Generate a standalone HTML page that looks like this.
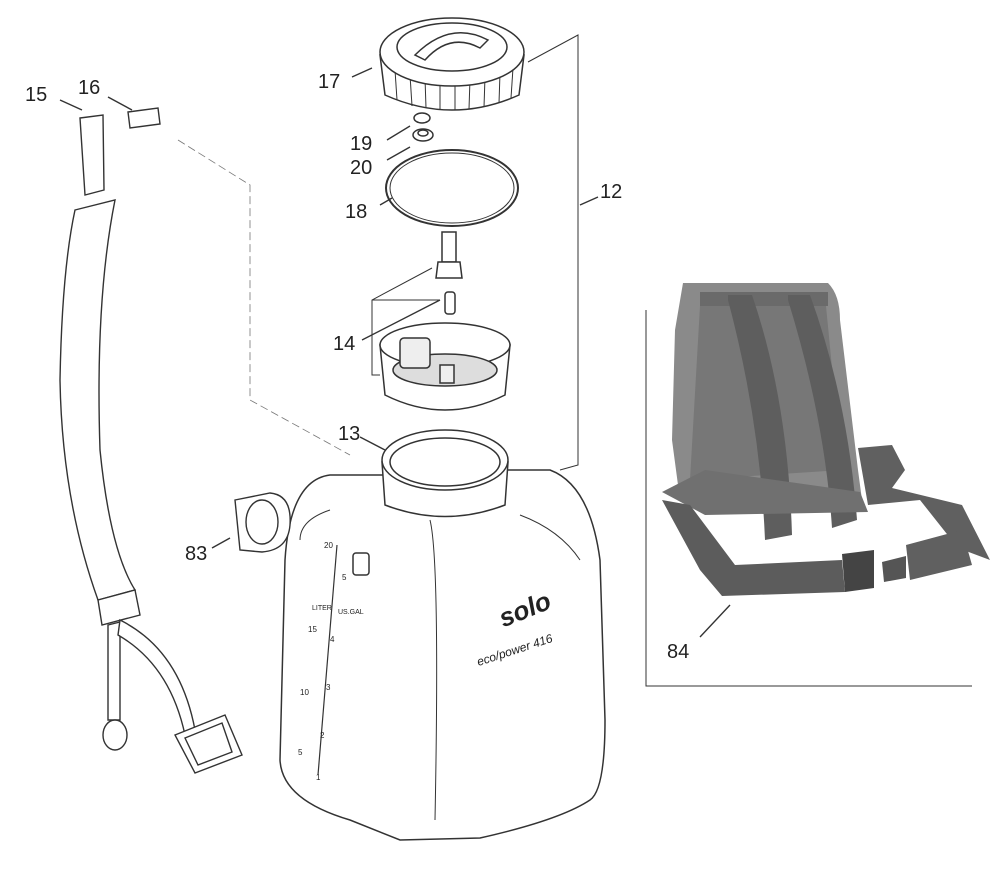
<!DOCTYPE html>
<html><head><meta charset="utf-8"><style>
html,body{margin:0;padding:0;background:#fff}
svg{display:block}
text{font-family:"Liberation Sans",sans-serif;fill:#222}
</style></head><body>
<svg width="1000" height="870" viewBox="0 0 1000 870" xmlns="http://www.w3.org/2000/svg">
<g fill="none" stroke="#333" stroke-width="1.4">
<line x1="60" y1="100" x2="82" y2="110"/>
<line x1="108" y1="97" x2="132" y2="110"/>
<line x1="352" y1="77" x2="372" y2="68"/>
<line x1="387" y1="140" x2="410" y2="126"/>
<line x1="387" y1="160" x2="410" y2="147"/>
<line x1="380" y1="205" x2="392" y2="198"/>
<line x1="598" y1="197" x2="580" y2="205"/>
<line x1="362" y1="340" x2="440" y2="300"/>
<line x1="360" y1="437" x2="385" y2="450"/>
<line x1="212" y1="548" x2="230" y2="538"/>
<line x1="700" y1="637" x2="730" y2="605"/>
<polyline points="528,62 578,35 578,465 560,470" stroke-width="1"/>
<polyline points="432,268 372,300 372,375 380,375" stroke-width="1"/>
<line x1="372" y1="300" x2="440" y2="300" stroke-width="1"/>
<polyline points="178,140 250,185 250,400 350,455" stroke-dasharray="8,4" stroke-width="0.8" stroke="#777"/>
<polyline points="646,310 646,686 972,686" stroke-width="1"/>
</g>
<g stroke="#333" stroke-width="1.5" fill="#fff">
<path d="M380,55 L385,95 Q452,125 519,95 L524,55 Z"/>
<g stroke-width="1">
<line x1="395" y1="70" x2="397" y2="100"/><line x1="410" y1="75" x2="412" y2="106"/>
<line x1="425" y1="78" x2="426" y2="108"/><line x1="440" y1="80" x2="440" y2="110"/>
<line x1="455" y1="80" x2="455" y2="110"/><line x1="470" y1="79" x2="469" y2="109"/>
<line x1="485" y1="77" x2="484" y2="107"/><line x1="500" y1="73" x2="499" y2="103"/>
<line x1="513" y1="68" x2="511" y2="98"/>
</g>
<ellipse cx="452" cy="52" rx="72" ry="34"/>
<ellipse cx="452" cy="47" rx="55" ry="24"/>
<path d="M415,55 Q450,20 488,40 L480,48 Q450,32 425,60 Z"/>
<ellipse cx="422" cy="118" rx="8" ry="5"/>
<ellipse cx="423" cy="135" rx="10" ry="6"/>
<ellipse cx="423" cy="133" rx="5" ry="3"/>
<ellipse cx="452" cy="188" rx="66" ry="38" fill="none" stroke-width="2"/>
<ellipse cx="452" cy="188" rx="62" ry="35" fill="none" stroke-width="1"/>
<rect x="442" y="232" width="14" height="30"/>
<path d="M438,262 L460,262 L462,278 L436,278 Z"/>
<rect x="445" y="292" width="10" height="22" rx="3"/>
<path d="M380,345 L385,395 Q445,425 505,395 L510,345 Z"/>
<ellipse cx="445" cy="345" rx="65" ry="22"/>
<ellipse cx="445" cy="370" rx="52" ry="16" fill="#ddd"/>
<rect x="400" y="338" width="30" height="30" rx="4" fill="#eee"/>
<rect x="440" y="365" width="14" height="18" fill="#eee"/>
</g>
<g stroke="#333" stroke-width="1.5" fill="#fff">
<path d="M330,475 Q290,480 285,560 L280,760 Q282,800 350,820 L400,840 L480,838 Q560,820 590,800 Q605,790 605,720 L600,560 Q590,485 550,470 L505,470 L385,475 Z"/>
<path d="M382,462 L385,505 Q445,528 505,505 L508,462 Z"/>
<ellipse cx="445" cy="460" rx="63" ry="30"/>
<ellipse cx="445" cy="462" rx="55" ry="24"/>
<path d="M300,540 Q300,520 330,510" fill="none" stroke-width="1"/>
<path d="M430,520 Q440,560 435,820" fill="none" stroke-width="1"/>
<path d="M520,515 Q560,530 580,560" fill="none" stroke-width="1"/>
<rect x="353" y="553" width="16" height="22" rx="3"/>
<line x1="337" y1="545" x2="318" y2="775" stroke-width="1.2"/>
</g>
<g font-size="8">
<text x="324" y="548">20</text><text x="342" y="580">5</text>
<text x="312" y="610" font-size="7">LITER</text><text x="338" y="614" font-size="7">US.GAL</text>
<text x="308" y="632">15</text><text x="330" y="642">4</text>
<text x="300" y="695">10</text><text x="326" y="690">3</text>
<text x="320" y="738">2</text><text x="298" y="755">5</text><text x="316" y="780">1</text>
</g>
<text x="498" y="620" font-size="26" font-weight="bold" font-style="italic" transform="rotate(-22 520 610)" fill="#666">solo</text>
<text x="472" y="655" font-size="12" font-style="italic" transform="rotate(-18 510 640)" fill="#555">eco/power 416</text>
<g stroke="#333" stroke-width="1.4" fill="#fff">
<path d="M235,500 L270,493 Q292,495 290,525 Q288,550 262,552 L240,550 Z"/>
<ellipse cx="262" cy="522" rx="16" ry="22"/>
</g>
<g stroke="#333" stroke-width="1.4" fill="#fff">
<path d="M80,118 L103,115 L104,190 L85,195 Z"/>
<path d="M75,210 L115,200 Q95,300 100,450 Q110,550 135,590 L98,600 Q62,500 60,380 Q62,270 75,210 Z"/>
<path d="M98,600 L135,590 L140,615 L102,625 Z"/>
<path d="M108,625 L120,622 L120,720 L108,720 Z"/>
<ellipse cx="115" cy="735" rx="12" ry="15"/>
<path d="M120,620 Q180,650 195,730 L185,735 Q170,665 118,635 Z"/>
<path d="M175,735 L225,715 L242,755 L195,773 Z"/>
<path d="M185,738 L222,723 L232,752 L198,765 Z"/>
<path d="M128,112 L158,108 L160,124 L130,128 Z"/>
</g>
<!-- Backpack photo -->
<g>
<path d="M683,283 L828,283 Q840,295 840,320 L858,470 L862,500 L680,500 L672,440 L675,330 Z" fill="#8a8a8a"/>
<rect x="700" y="292" width="128" height="14" fill="#6a6a6a"/>
<path d="M700,306 L826,306 L842,470 L690,480 Z" fill="#777"/>
<path d="M728,295 L752,295 Q788,400 792,535 L765,540 Q760,420 728,300 Z" fill="#5e5e5e"/>
<path d="M788,295 L810,295 Q848,400 857,520 L832,528 Q825,420 788,300 Z" fill="#5e5e5e"/>
<path d="M662,492 L705,470 L860,492 L868,512 L705,515 Z" fill="#707070"/>
<path d="M858,448 L892,445 L905,470 L892,488 L962,505 L990,560 L958,548 L920,500 L868,505 Z" fill="#606060"/>
<path d="M662,500 L690,505 L735,565 L842,560 L845,592 L722,596 L700,570 Z" fill="#5c5c5c"/>
<path d="M842,554 L874,550 L874,588 L845,592 Z" fill="#444"/>
<path d="M882,562 L906,556 L906,578 L884,582 Z" fill="#555"/>
<path d="M906,545 L962,530 L972,565 L910,580 Z" fill="#606060"/>
</g>
<g font-size="20">
<text x="25" y="101">15</text><text x="78" y="94">16</text>
<text x="318" y="88">17</text><text x="350" y="150">19</text>
<text x="350" y="174">20</text><text x="345" y="218">18</text>
<text x="600" y="198">12</text><text x="333" y="350">14</text>
<text x="338" y="440">13</text><text x="185" y="560">83</text>
<text x="667" y="658">84</text>
</g>
</svg>
</body></html>
